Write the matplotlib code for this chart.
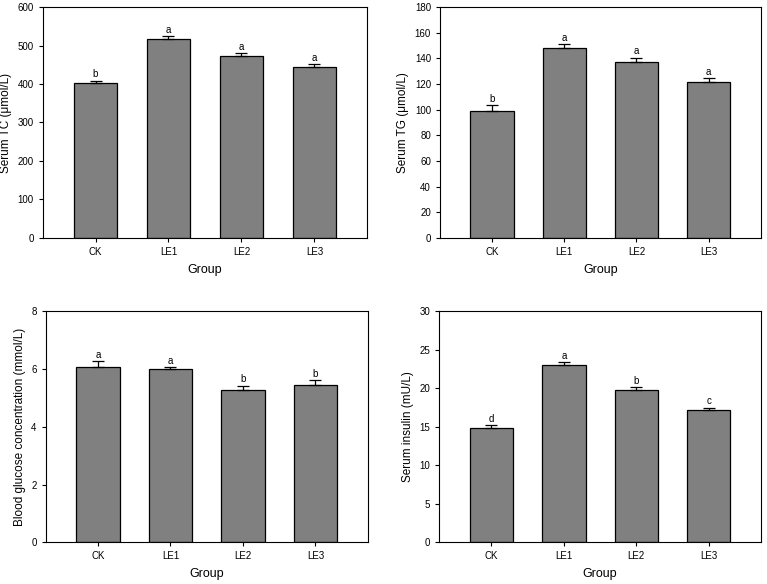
import matplotlib
matplotlib.use("Agg")
import matplotlib.pyplot as plt
import numpy as np

plt.rcParams['font.family'] = ['Liberation Sans', 'DejaVu Sans']

groups = ["CK", "LE1", "LE2", "LE3"]

tc_mean = [402, 516, 472, 443]
tc_err = [7, 8, 8, 8]
tc_letters = ["b", "a", "a", "a"]

tg_mean = [99.3, 148, 137, 121.5]
tg_err = [4, 3.2, 3.6, 3.3]
tg_letters = ["b", "a", "a", "a"]

glu_mean = [6.06, 6.0, 5.26, 5.44]
glu_err = [0.22, 0.08, 0.17, 0.17]
glu_letters = ["a", "a", "b", "b"]

ins_mean = [14.8, 23.03, 19.78, 17.14]
ins_err = [0.4, 0.38, 0.35, 0.36]
ins_letters = ["d", "a", "b", "c"]

panels = [
    (tc_mean, tc_err, tc_letters, "Serum TC (μmol/L)", 600, 100, [0.056, 0.5925, 0.4225, 0.3955]),
    (tg_mean, tg_err, tg_letters, "Serum TG (μmol/L)", 180, 20, [0.5737, 0.5925, 0.418, 0.3955]),
    (glu_mean, glu_err, glu_letters, "Blood glucose concentration (mmol/L)", 8, 2, [0.0596, 0.0714, 0.4198, 0.3955]),
    (ins_mean, ins_err, ins_letters, "Serum insulin (mU/L)", 30, 5, [0.5728, 0.0714, 0.419, 0.3955]),
]

fig = plt.figure(figsize=(7.67, 5.84), dpi=100)
x = np.arange(len(groups))
for mean, err, letters, ylabel, ymax, step, pos in panels:
    ax = fig.add_axes(pos)
    ax.bar(x, mean, width=0.6, color="#808080", edgecolor="black", linewidth=0.9, zorder=2)
    ax.errorbar(x, mean, yerr=[np.zeros(len(err)), err], fmt="none", ecolor="black",
                elinewidth=0.9, capsize=4, capthick=0.9, zorder=3)
    for xi, m, e, lt in zip(x, mean, err, letters):
        ax.text(xi, m + e + ymax * 0.005, lt, ha="center", va="bottom", fontsize=7)
    ax.set_xlim(-0.72, 3.72)
    ax.set_ylim(0, ymax)
    ax.set_yticks(np.arange(0, ymax + step / 2, step))
    ax.set_xticks(x)
    ax.set_xticklabels(groups)
    ax.tick_params(axis="both", labelsize=7, direction="out", length=3, width=0.8)
    for s in ax.spines.values():
        s.set_linewidth(0.8)
    ax.set_xlabel("Group", fontsize=9, labelpad=5)
    ax.set_ylabel(ylabel, fontsize=8.5, labelpad=4)

fig.savefig("out.png", dpi=100)
